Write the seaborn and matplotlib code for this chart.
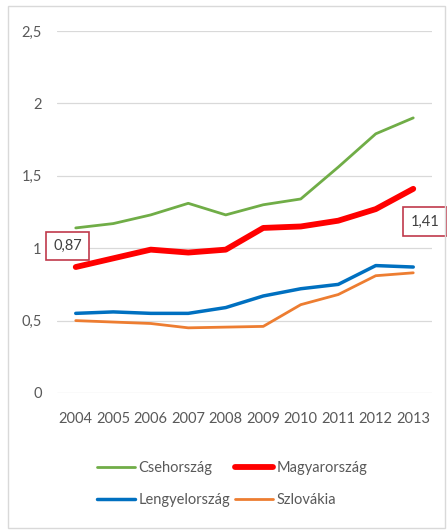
import numpy as np
import pandas as pd
import matplotlib
matplotlib.use("Agg")
import matplotlib.pyplot as plt
from matplotlib.patches import Rectangle
import seaborn as sns

years = ["2004", "2005", "2006", "2007", "2008", "2009", "2010", "2011", "2012", "2013"]
cseh = [1.14, 1.17, 1.23, 1.31, 1.23, 1.30, 1.34, 1.56, 1.79, 1.90]
magyar = [0.87, 0.93, 0.99, 0.97, 0.99, 1.14, 1.15, 1.19, 1.27, 1.41]
lengyel = [0.55, 0.56, 0.55, 0.55, 0.59, 0.67, 0.72, 0.75, 0.88, 0.87]
szlovak = [0.50, 0.49, 0.48, 0.45, 0.455, 0.46, 0.61, 0.68, 0.81, 0.83]
names = ["Csehország", "Magyarország", "Lengyelország", "Szlovákia"]
colors = ["#70AD47", "#FF0000", "#0070C0", "#ED7D31"]
widths = [2.0, 4.2, 2.5, 2.0]

sns.set_style("white")
plt.rcParams["font.family"] = ["Lato", "DejaVu Sans"]

df = pd.DataFrame({"ev": years, "Csehország": cseh, "Magyarország": magyar,
                   "Lengyelország": lengyel, "Szlovákia": szlovak})
df["pos"] = np.arange(len(years))

fig = plt.figure(figsize=(4.47, 5.31), dpi=100)
ax = fig.add_axes([57/447, 138/531, 375/447, 362/531])

lines = {}
for nm, c, w in zip(names, colors, widths):
    sns.lineplot(data=df, x="pos", y=nm, color=c, linewidth=w, ax=ax)
    lines[nm] = ax.get_lines()[-1]

ax.set_xlim(-0.5, 9.5)
ax.set_ylim(0, 2.5)
ax.set_xticks(df["pos"])
ax.set_xticklabels(years)
yt = [0, 0.5, 1, 1.5, 2, 2.5]
ax.set_yticks(yt)
ax.set_yticklabels([("%g" % v).replace(".", ",") for v in yt])
ax.tick_params(axis="both", colors="#595959", labelsize=10.5, length=0)
ax.tick_params(axis="y", pad=11)
ax.tick_params(axis="x", pad=14)
ax.grid(axis="y", color="#D9D9D9", linewidth=0.9)
ax.set_axisbelow(True)
for s in ax.spines.values():
    s.set_visible(False)
ax.set_xlabel("")
ax.set_ylabel("")

# cimkek az elso es utolso magyar ertekhez
box = dict(boxstyle="square,pad=0.5", fc="white", ec="#C0394B", lw=1.2)
ax.annotate(("%.2f" % magyar[0]).replace(".", ","), xy=(0, magyar[0]),
            xytext=(-6, 15), textcoords="offset points", ha="center", va="center",
            fontsize=10.5, color="#404040", bbox=box)
ax.annotate(("%.2f" % magyar[-1]).replace(".", ","), xy=(9, magyar[-1]),
            xytext=(8.5, -23.5), textcoords="offset points", ha="center", va="center",
            fontsize=10.5, color="#404040", bbox=box)

order = ["Csehország", "Lengyelország", "Magyarország", "Szlovákia"]
fig.legend([lines[n] for n in order], order, ncol=2, loc="center",
           bbox_to_anchor=(232/447, 1 - 484/531), frameon=False, fontsize=10.5,
           labelcolor="#595959", handlelength=2.6, handletextpad=0.25,
           columnspacing=0.3, labelspacing=1.25)

fig.patches.append(Rectangle((8/447, 3/531), 437/447, 522/531, transform=fig.transFigure,
                             fill=False, ec="#D9D9D9", lw=1))

fig.savefig("out.png", dpi=100)
